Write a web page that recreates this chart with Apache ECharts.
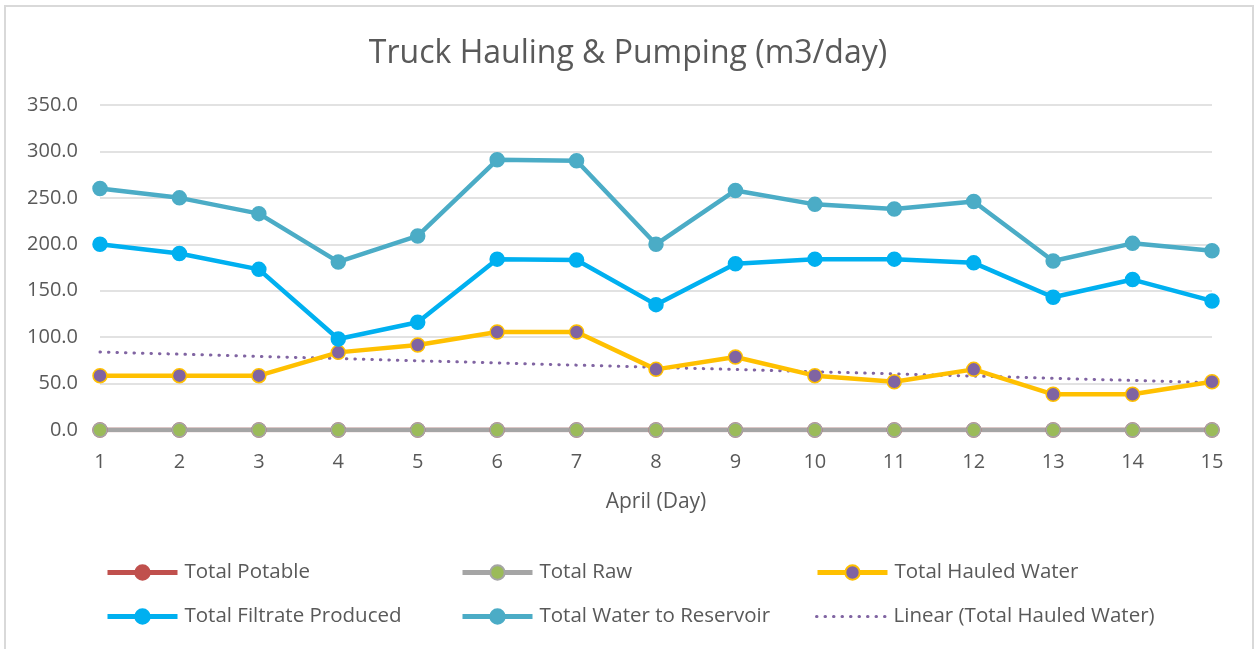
<!DOCTYPE html>
<html>
<head>
<meta charset="utf-8">
<script src="https://cdn.jsdelivr.net/npm/echarts@6/dist/echarts.min.js"></script>
<style>
	html, body { margin: 0; padding: 0; background: #fff; }
	#lineChart { width: 1256px; height: 649px; }
</style>
</head>
<body>
<div id="lineChart"></div>
<script>
	//数据
	var days = ['1','2','3','4','5','6','7','8','9','10','11','12','13','14','15'];
	var yTicks = [0, 50, 100, 150, 200, 250, 300, 350];
	var potable = [0,0,0,0,0,0,0,0,0,0,0,0,0,0,0];
	var raw = [0,0,0,0,0,0,0,0,0,0,0,0,0,0,0];
	var hauled = [58.5, 58.5, 58.5, 83.6, 91.5, 105.5, 105.5, 65.3, 78.6, 58.5, 52, 65.3, 38.4, 38.4, 52];
	var filtrate = [200, 190, 173, 98, 116, 184, 183, 135, 179, 184, 184, 180, 143, 162, 139];
	var reservoir = [260, 250, 233, 181, 209, 291, 290, 200, 258, 243, 238, 246, 182, 201, 193];
	// 趋势线两端(图上读出)
	var trendEnds = [84, 51];

	var font = 'Open Sans';
	var txt = '#595959';

	function lineSeries(name, data, lineColor, dotColor, borderColor){
		return {
			name: name,
			type: 'line',
			data: data,
			symbol: 'circle',
			symbolSize: 14,
			animation: false,
			lineStyle: { width: 4.5, color: lineColor },
			itemStyle: { color: dotColor, borderColor: borderColor, borderWidth: 1.5 },
			z: 3
		};
	}

	//图例位置
	var legendPos = [
		['Total Potable', 105, 562],
		['Total Raw', 460, 562],
		['Total Hauled Water', 815, 562],
		['Total Filtrate Produced', 105, 606],
		['Total Water to Reservoir', 460, 606],
		['Linear (Total Hauled Water)', 815, 606]
	];
	var legends = legendPos.map(function(p, i){
		var item = { name: p[0] };
		if (i == 5) {
			item.itemStyle = { opacity: 0 };  //趋势线无节点
		}
		return {
			data: [item],
			left: p[1],
			top: p[2],
			itemWidth: 70,
			itemHeight: 18,
			padding: 0,
			selectedMode: false,
			lineStyle: i == 5 ? { width: 3 } : { width: 5 },
			textStyle: { color: txt, fontSize: 20.5, fontFamily: font, padding: [0, 0, 0, 2] }
		};
	});

	var trendData = [[0, trendEnds[0]], [days.length - 1, trendEnds[1]]];

	var chartOption = {
		backgroundColor: '#fff',
		title: {
			text: 'Truck Hauling & Pumping (m3/day)',
			left: 'center',
			top: 33,
			textStyle: { color: txt, fontSize: 32, fontWeight: 'normal', fontFamily: font }
		},
		graphic: [{
			type: 'rect',
			shape: { x: 5, y: 6, width: 1248, height: 700 },
			style: { fill: 'none', stroke: '#D9D9D9', lineWidth: 2 },
			silent: true
		}],
		legend: legends,
		grid: { left: 100, right: 44, top: 105, bottom: 219, containLabel: false },
		xAxis: {
			type: 'category',
			data: days,
			boundaryGap: false,
			name: 'April (Day)',
			nameLocation: 'middle',
			nameGap: 62,
			nameTextStyle: { color: txt, fontSize: 21, fontFamily: font },
			axisLine: { lineStyle: { color: '#D9D9D9', width: 1 } },
			axisTick: { show: false },
			axisLabel: { color: txt, fontSize: 20, fontFamily: font, margin: 22 },
			splitLine: { show: false }
		},
		yAxis: {
			type: 'value',
			min: yTicks[0],
			max: yTicks[yTicks.length - 1],
			interval: 50,
			axisLine: { show: false },
			axisTick: { show: false },
			axisLabel: {
				color: txt, fontSize: 20, fontFamily: font, margin: 22,
				formatter: function(v){ return v.toFixed(1); }
			},
			splitLine: { lineStyle: { color: '#D9D9D9', width: 1.5 } }
		},
		series: [
			lineSeries('Total Potable', potable, '#C0504D', '#C0504D', '#C0504D'),
			lineSeries('Total Raw', raw, '#A5A5A5', '#9BBB59', '#A5A5A5'),
			lineSeries('Total Hauled Water', hauled, '#FFC000', '#8064A2', '#FFC000'),
			lineSeries('Total Filtrate Produced', filtrate, '#00B0F0', '#00B0F0', '#00B0F0'),
			lineSeries('Total Water to Reservoir', reservoir, '#4BACC6', '#4BACC6', '#4BACC6'),
			{
				name: 'Linear (Total Hauled Water)',
				type: 'line',
				data: trendData,
				symbol: 'none',
				animation: false,
				lineStyle: { width: 3, color: '#8064A2', type: [0.5, 8], cap: 'round' },
				itemStyle: { color: '#8064A2' },
				z: 2
			}
		]
	};

	var lineChart = echarts.init(document.getElementById('lineChart'));
	lineChart.setOption(chartOption);
</script>
</body>
</html>
